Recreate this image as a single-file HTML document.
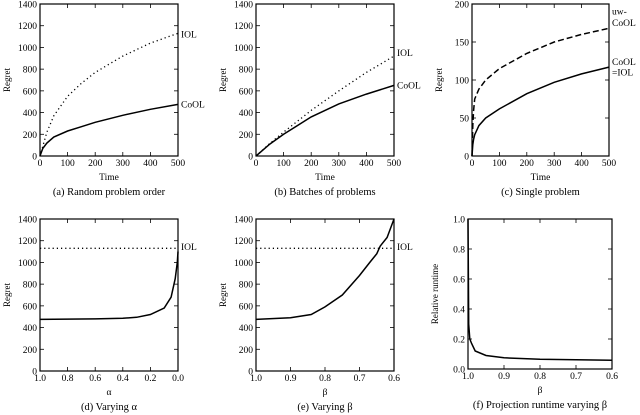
<!DOCTYPE html>
<html><head><meta charset="utf-8"><style>
html,body{margin:0;padding:0;background:#fff}
svg{display:block;font-family:"Liberation Serif",serif}
</style></head><body>
<svg id="c" width="640" height="415" viewBox="0 0 640 415"></svg>
<script>
// Panel data
const aT=[0,10,25,50,100,150,200,300,400,500];
const aCoOL=[0,70,120,175,230,270,310,375,430,475];
const aIT=[0,25,50,100,150,200,300,400,500];
const aIOL=[0,220,370,550,670,770,920,1040,1130];
const bT=[0,50,100,200,300,400,500];
const bCoOL=[0,110,200,360,480,570,650];
const bIOL=[0,115,220,420,600,770,920];
const cT=[0,3,6,10,25,50,100,200,300,400,500];
const cUW=[0,40,60,75,88,100,115,135,150,160,168];
const cCoOL=[0,15,22,28,40,50,62,82,97,108,117];
const dA=[1.0,0.8,0.6,0.4,0.3,0.2,0.1,0.05,0.02,0.005,0.0];
const dCoOL=[475,478,480,485,495,520,580,680,850,1000,1100];
const dIOL=1130;
const eB=[1.0,0.9,0.84,0.8,0.75,0.7,0.67,0.65,0.64,0.62,0.6];
const eCoOL=[475,490,520,590,700,880,1000,1080,1150,1230,1400];
const fB=[1.0,0.999,0.998,0.995,0.99,0.98,0.95,0.9,0.8,0.7,0.6];
const fR=[1.0,0.6,0.3,0.2,0.17,0.12,0.09,0.075,0.065,0.062,0.058];
const regTicks=[0,200,400,600,800,1000,1200,1400];
const timeTicks=[0,100,200,300,400,500];

const svg=document.getElementById('c');
const NS='http://www.w3.org/2000/svg';
function mk(tag,at,parent){const e=document.createElementNS(NS,tag);for(const k in at)e.setAttribute(k,at[k]);(parent||svg).appendChild(e);return e;}
function txt(s,x,y,anchor,size,parent,name,rot){const t=mk('text',{x:x,y:y,'text-anchor':anchor,'font-size':size},parent);


if(rot)t.setAttribute('transform','rotate(-90 '+x+' '+y+')');t.textContent=s;return t;}

function panel(id,L,R,T,B,x0,x1,y0,y1,xt,xtl,yt,ytl,xlab,ylab,cap){
  const g=mk('g',{});
  
  
  const sx=v=>L+(v-x0)/(x1-x0)*(R-L), sy=v=>B-(v-y0)/(y1-y0)*(B-T);
  xt.forEach((v,i)=>{const x=sx(v);
    mk('line',{x1:x,x2:x,y1:B,y2:B-4,stroke:'#000','stroke-width':0.8},g);
    mk('line',{x1:x,x2:x,y1:T,y2:T+4,stroke:'#000','stroke-width':0.8},g);
    txt(xtl[i],x,B+10,'middle',9.5,g,'x-tick-label');});
  yt.forEach((v,i)=>{const y=sy(v);
    mk('line',{x1:L,x2:L+4,y1:y,y2:y,stroke:'#000','stroke-width':0.8},g);
    mk('line',{x1:R,x2:R-4,y1:y,y2:y,stroke:'#000','stroke-width':0.8},g);
    txt(ytl[i],L-3,y+3.5,'end',9.5,g,'y-tick-label');});
  txt(xlab,(L+R)/2,B+24,xlab=='Time'?'middle':'middle',9.5,g,'x-axis-title');
  txt(ylab,L-30,(T+B)/2,'middle',9,g,'y-axis-title',true);
  txt(cap,(L+R)/2,B+39,'middle',10.5,g,'caption');
  return {g,sx,sy,L,R,T,B};
}
function line(p,xs,ys,dash,name){
  const d=xs.map((x,i)=>(i?'L':'M')+p.sx(x).toFixed(1)+','+p.sy(ys[i]).toFixed(1)).join('');
  const e=mk('path',{d:d,fill:'none',stroke:'#000','stroke-width':dash=='dot'?1.3:1.5,'stroke-dasharray':dash=='dot'?'1.2,3':dash=='dash'?'6,3':'none'},p.g);
  
  
}
function frame(p){mk('rect',{x:p.L,y:p.T,width:p.R-p.L,height:p.B-p.T,fill:'none',stroke:'#000','stroke-width':1.2},p.g);}
const rt=regTicks.map(String), tt=timeTicks.map(String);

let p=panel('a',40,178,4,156,0,500,0,1400,timeTicks,tt,regTicks,rt,'Time','Regret','(a)  Random problem order');
line(p,aIT,aIOL,'dot','iol-line');line(p,aT,aCoOL,'solid','cool-line');frame(p);
txt('IOL',181,p.sy(1120)+3,'start',9.5,p.g,'iol-label');txt('CoOL',181,p.sy(475)+3,'start',9.5,p.g,'cool-label');

p=panel('b',256,394,4,156,0,500,0,1400,timeTicks,tt,regTicks,rt,'Time','Regret','(b)  Batches of problems');
line(p,bT,bIOL,'dot','iol-line');line(p,bT,bCoOL,'solid','cool-line');frame(p);
txt('IOL',397,p.sy(950)+3,'start',9.5,p.g,'iol-label');txt('CoOL',397,p.sy(650)+3,'start',9.5,p.g,'cool-label');

p=panel('c',472,609,4,156,0,500,0,200,timeTicks,tt,[0,50,100,150,200],['0','50','100','150','200'],'Time','Regret','(c)  Single problem');
line(p,cT,cUW,'dash','uw-cool-line');line(p,cT,cCoOL,'solid','cool-line');frame(p);
txt('uw-',612,p.sy(190)+3,'start',9.5,p.g,'uw-cool-label');txt('CoOL',612,p.sy(175)+3,'start',9.5,p.g,'uw-cool-label');
txt('CoOL',612,p.sy(124)+3,'start',9.5,p.g,'cool-label');txt('=IOL',612,p.sy(110)+3,'start',9.5,p.g,'cool-label');

const at=[1.0,0.8,0.6,0.4,0.2,0.0];
p=panel('d',40,178,219,371,1.0,0.0,0,1400,at,at.map(v=>v.toFixed(1)),regTicks,rt,'α','Regret','(d)  Varying α');
line(p,[1.0,0.0],[dIOL,dIOL],'dot','iol-line');line(p,dA,dCoOL,'solid','cool-line');frame(p);
txt('IOL',181,p.sy(1140)+3,'start',9.5,p.g,'iol-label');

const bt=[1.0,0.9,0.8,0.7,0.6];
p=panel('e',256,394,219,371,1.0,0.6,0,1400,bt,bt.map(v=>v.toFixed(1)),regTicks,rt,'β','Regret','(e)  Varying β');
line(p,[1.0,0.6],[dIOL,dIOL],'dot','iol-line');line(p,eB,eCoOL,'solid','cool-line');frame(p);
txt('IOL',397,p.sy(1140)+3,'start',9.5,p.g,'iol-label');

const ft=[0,0.2,0.4,0.6,0.8,1.0];
p=panel('f',468,612,219,369,1.0,0.6,0,1,bt,bt.map(v=>v.toFixed(1)),ft,ft.map(v=>v.toFixed(1)),'β','Relative runtime','(f)  Projection runtime varying β');
line(p,fB,fR,'solid','runtime-line');frame(p);
</script>
</body></html>
